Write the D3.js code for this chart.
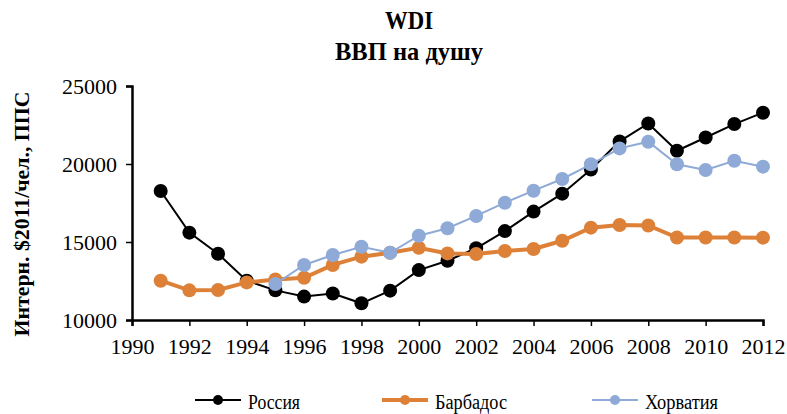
<!DOCTYPE html>
<html>
<head>
<meta charset="utf-8">
<script src="https://cdn.jsdelivr.net/npm/d3@7"></script>
<style>
  body { margin: 0; background: #fff; }
</style>
</head>
<body>
<div id="chart"></div>
<script>
var svgWidth = 787;
var svgHeight = 414;
var fontFamily = "'Liberation Serif', 'Times New Roman', Times, serif";

var margin = { top: 86, right: 24, bottom: 94, left: 132 };
var width = svgWidth - margin.left - margin.right;
var height = svgHeight - margin.top - margin.bottom;

// data
var years = [1991, 1992, 1993, 1994, 1995, 1996, 1997, 1998, 1999, 2000, 2001,
  2002, 2003, 2004, 2005, 2006, 2007, 2008, 2009, 2010, 2011, 2012];
var russia = [18270, 15600, 14250, 12520, 11900, 11500, 11700, 11070, 11880, 13200, 13800,
  14600, 15700, 16950, 18100, 19650, 21450, 22600, 20850, 21700, 22560, 23290];
var barbados = [12520, 11900, 11920, 12410, 12600, 12710, 13530, 14060, 14310, 14630, 14270,
  14230, 14420, 14550, 15080, 15920, 16090, 16060, 15290, 15290, 15290, 15280];
var croatia = [null, null, null, null, 12310, 13530, 14170, 14700, 14310, 15400, 15880,
  16670, 17520, 18290, 19040, 19980, 21000, 21430, 19980, 19620, 20210, 19830];
var seriesNames = ["Россия", "Барбадос", "Хорватия"];
var xTicks = d3.range(1990, 2013, 2);
var yTicks = [10000, 15000, 20000, 25000];

var series = [
  { name: seriesNames[0], values: russia, color: "#000000", lw: 2 },
  { name: seriesNames[1], values: barbados, color: "#DD8139", lw: 4 },
  { name: seriesNames[2], values: croatia, color: "#8FAAD6", lw: 2 }
];

var svg = d3.select("#chart")
  .append("svg")
  .attr("width", svgWidth)
  .attr("height", svgHeight)
  .style("font-family", fontFamily);

var chartGroup = svg.append("g")
  .attr("transform", `translate(${margin.left}, ${margin.top})`);

var x = d3.scaleLinear().domain([1990, 2012]).range([0, width]);
var y = d3.scaleLinear().domain([10000, 25000]).range([height, 0]);

// axes
var xAxis = chartGroup.append("g")
  .attr("transform", `translate(0, ${height})`)
  .call(d3.axisBottom(x).tickValues(xTicks).tickFormat(d3.format("d")).tickSizeOuter(0).tickSize(6));
var yAxis = chartGroup.append("g")
  .call(d3.axisLeft(y).tickValues(yTicks).tickFormat(d3.format("d")).tickSizeOuter(0).tickSize(6));

[xAxis, yAxis].forEach(function(a) {
  a.attr("font-family", null).attr("font-size", null);
  a.select(".domain").attr("stroke", "#000").attr("stroke-width", 2.5);
  a.selectAll(".tick line").attr("stroke", "#000").attr("stroke-width", 1.5);
  a.selectAll(".tick text").attr("fill", "#000")
    .style("font-family", fontFamily).style("font-size", "22px");
});
xAxis.selectAll(".tick text").attr("y", 18);
yAxis.selectAll(".tick text").attr("x", -15);

// lines and markers
series.forEach(function(s) {
  var pts = years.map(function(yr, i) { return { year: yr, v: s.values[i] }; })
    .filter(function(d) { return d.v != null; });

  var line = d3.line()
    .x(d => x(d.year))
    .y(d => y(d.v));

  chartGroup.append("path")
    .datum(pts)
    .attr("fill", "none")
    .attr("stroke", s.color)
    .attr("stroke-width", s.lw)
    .attr("d", line);

  chartGroup.append("g").selectAll("circle")
    .data(pts)
    .enter()
    .append("circle")
    .attr("cx", d => x(d.year))
    .attr("cy", d => y(d.v))
    .attr("r", 7)
    .attr("fill", s.color);
});

// titles
svg.append("text")
  .attr("x", 409).attr("y", 29)
  .attr("text-anchor", "middle")
  .style("font-size", "25px").style("font-weight", "bold")
  .attr("textLength", 48).attr("lengthAdjust", "spacingAndGlyphs")
  .text("WDI");
svg.append("text")
  .attr("x", 409).attr("y", 60)
  .attr("text-anchor", "middle")
  .style("font-size", "25px").style("font-weight", "bold")
  .attr("textLength", 148).attr("lengthAdjust", "spacingAndGlyphs")
  .text("ВВП на душу");

// y axis label
svg.append("text")
  .attr("transform", "translate(29, 214) rotate(-90)")
  .attr("text-anchor", "middle")
  .style("font-size", "22px").style("font-weight", "bold")
  .attr("textLength", 245).attr("lengthAdjust", "spacingAndGlyphs")
  .text("Интерн. $2011/чел., ППС");

// legend
var legendX = [195, 382, 592];
var legendW = [52, 72, 73];
var legend = svg.append("g").attr("transform", "translate(0, 400)");
series.forEach(function(s, i) {
  var g = legend.append("g").attr("transform", `translate(${legendX[i]}, 0)`);
  g.append("line")
    .attr("x1", 0).attr("x2", 46).attr("y1", 0).attr("y2", 0)
    .attr("stroke", s.color).attr("stroke-width", s.lw);
  g.append("circle").attr("cx", 23).attr("cy", 0).attr("r", 5).attr("fill", s.color);
  g.append("text")
    .attr("x", 53).attr("y", 9)
    .style("font-size", "20px")
    .attr("textLength", legendW[i]).attr("lengthAdjust", "spacingAndGlyphs")
    .text(s.name);
});
</script>
</body>
</html>
